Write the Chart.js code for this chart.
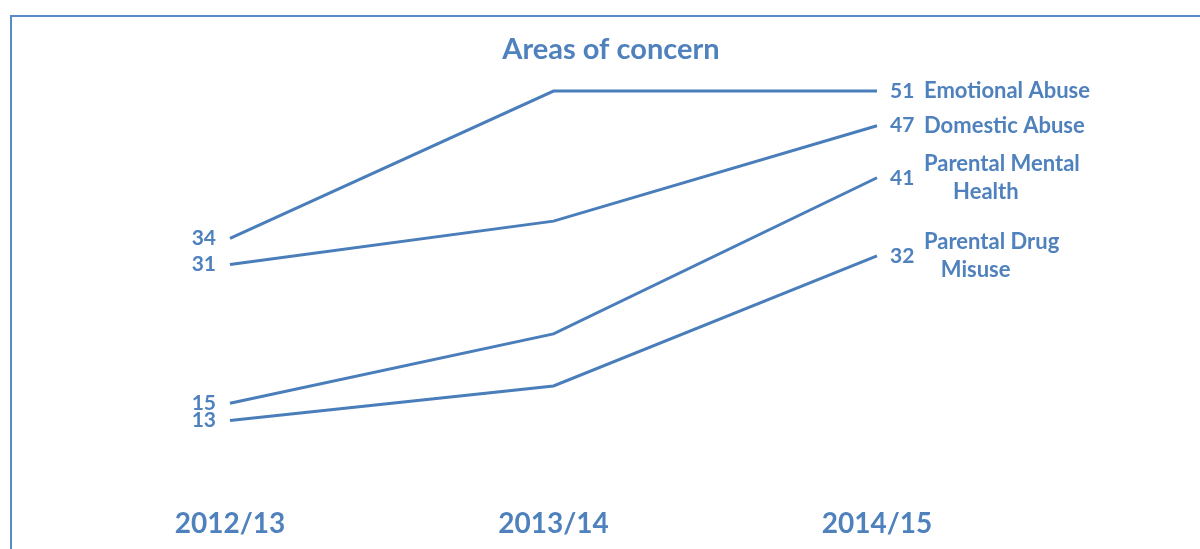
<!DOCTYPE html>
<html>
<head>
<meta charset="utf-8">
<script src="https://cdn.jsdelivr.net/npm/chart.js@4/dist/chart.umd.min.js"></script>
<style>
  html, body { margin: 0; padding: 0; background: #fff; }
  #wrap { position: relative; width: 1200px; height: 549px; }
  #frame { position: absolute; left: 10px; top: 15px; right: 0; bottom: 0;
           border-left: 2px solid #5b8ac8; border-top: 2px solid #5b8ac8; pointer-events: none; }
</style>
</head>
<body>
<div id="wrap">
  <canvas id="concern" width="1200" height="549"></canvas>
  <div id="frame"></div>
</div>
<script>
const categories = ['2012/13', '2013/14', '2014/15'];
const seriesNames = ['Emotional Abuse', 'Domestic Abuse', 'Parental Mental Health', 'Parental Drug Misuse'];
const emotionalAbuse = [34, 51, 51];
const domesticAbuse = [31, 36, 47];
const mentalHealth = [15, 23, 41];
const drugMisuse = [13, 17, 32];

// how the end labels wrap, as in the original
const endLabelLines = [['Emotional Abuse'], ['Domestic Abuse'], ['Parental Mental', 'Health'], ['Parental Drug', 'Misuse']];

const lineColor = '#4a7ebb';
const textColor = '#4f81bd';
const fontName = 'Lato';

const labelPlugin = {
    id: 'slopeLabels',
    afterDatasetsDraw(chart) {
        const ctx = chart.ctx;
        ctx.save();
        ctx.fillStyle = textColor;

        // title
        ctx.font = 'bold 29px ' + fontName;
        ctx.textAlign = 'center';
        ctx.textBaseline = 'middle';
        ctx.fillText('Areas of concern', 611, 50);

        chart.data.datasets.forEach((ds, i) => {
            const pts = chart.getDatasetMeta(i).data;
            const first = pts[0];
            const last = pts[pts.length - 1];

            ctx.font = 'bold 21px ' + fontName;
            ctx.textAlign = 'right';
            ctx.fillText(ds.data[0], first.x - 14, first.y);

            ctx.textAlign = 'left';
            ctx.fillText(ds.data[ds.data.length - 1], last.x + 13, last.y);

            ctx.font = 'bold 22px ' + fontName;
            const lines = endLabelLines[i];
            const nameX = last.x + 47;
            if (lines.length == 1) {
                ctx.fillText(lines[0], nameX, last.y);
            } else {
                const w1 = ctx.measureText(lines[0]).width;
                ctx.fillText(lines[0], nameX, last.y - 14);
                ctx.textAlign = 'center';
                ctx.fillText(lines[1], nameX + w1 / 2 - 16, last.y + 14);
            }
        });
        ctx.restore();
    }
};

const ctx = document.getElementById('concern').getContext('2d');
const myChart = new Chart(ctx, {
    type: 'line',
    data: {
        labels: categories,
        datasets: [emotionalAbuse, domesticAbuse, mentalHealth, drugMisuse].map((d, i) => ({
            label: seriesNames[i],
            data: d,
            borderColor: lineColor,
            borderWidth: 3,
            pointRadius: 0,
            tension: 0,
            fill: false
        }))
    },
    options: {
        responsive: false,
        animation: false,
        layout: {
            padding: { top: 65, left: 230, right: 323, bottom: 8 }
        },
        plugins: {
            legend: { display: false },
            tooltip: { enabled: false },
            title: { display: false }
        },
        scales: {
            x: {
                offset: false,
                grid: { display: false, drawTicks: false },
                border: { display: false },
                afterFit(scale) { scale.height = 51; },
                ticks: {
                    color: textColor,
                    padding: 17,
                    maxRotation: 0,
                    font: { family: fontName, size: 28, weight: 'bold' }
                }
            },
            y: {
                display: false,
                min: 5,
                max: 54
            }
        }
    },
    plugins: [labelPlugin]
});
</script>
</body>
</html>
